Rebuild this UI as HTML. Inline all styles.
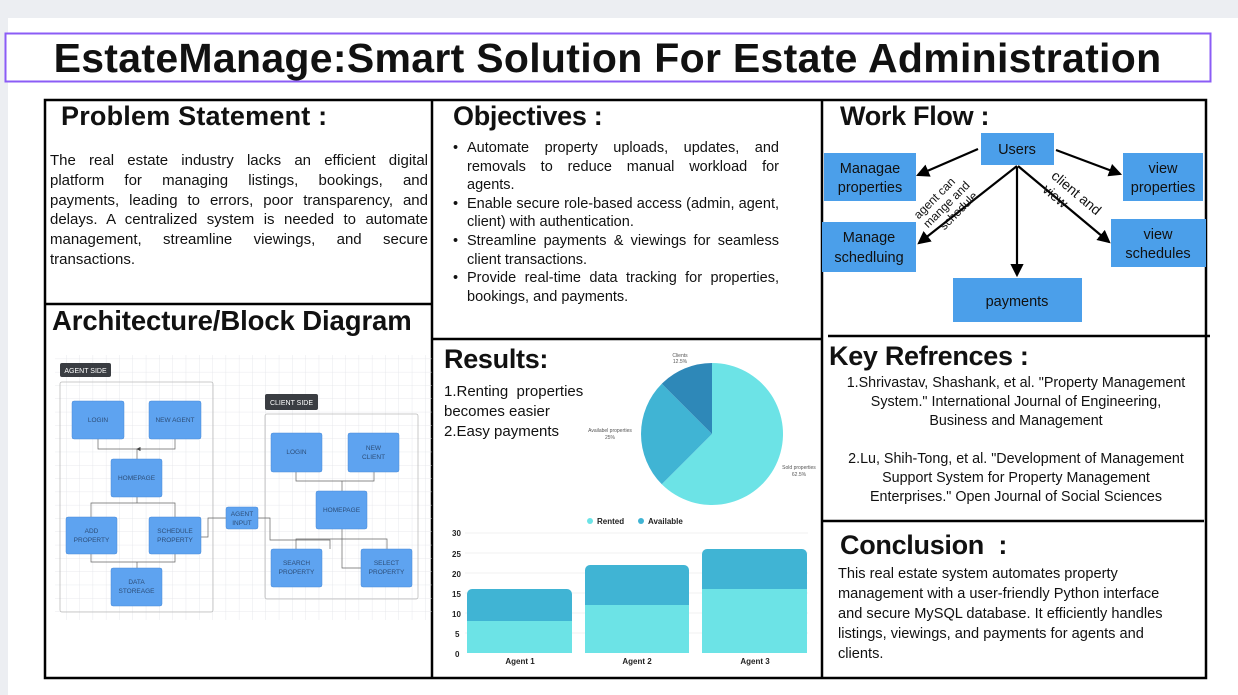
<!DOCTYPE html>
<html><head><meta charset="utf-8"><style>
html,body{margin:0;padding:0;}
body{width:1238px;height:695px;position:relative;overflow:hidden;background:#eceef2;font-family:"Liberation Sans",sans-serif;color:#111;}
.a{position:absolute;}
.p{font-size:15px;line-height:19.8px;}
.j{text-align:justify;text-align-last:justify;white-space:nowrap;}
.h{font-weight:bold;font-size:26.5px;letter-spacing:-0.3px;}
</style></head><body>
<div class="a" style="left:8px;top:18px;width:1230px;height:677px;background:#fff"></div>
<svg class="a" style="left:0;top:0" width="1238" height="695" xmlns="http://www.w3.org/2000/svg">
<defs>
<pattern id="g" width="13.3" height="13.3" patternUnits="userSpaceOnUse"><path d="M13.3 0V13.3H0" fill="none" stroke="#e2e4e8" stroke-width="0.8"/></pattern>
<marker id="ah" markerWidth="6" markerHeight="6" refX="5" refY="3" orient="auto" markerUnits="strokeWidth"><path d="M0,0L6,3L0,6z" fill="#000"/></marker>
<marker id="sa" markerWidth="6" markerHeight="6" refX="5" refY="3" orient="auto"><path d="M0,0L6,3L0,6z" fill="#444"/></marker>
</defs>
<rect x="5.5" y="33.5" width="1205" height="48" fill="#fff" stroke="#8b5cf6" stroke-width="2"/>
<g stroke="#000" stroke-width="2.5" fill="none">
<rect x="45" y="100" width="1161" height="578"/>
<line x1="432" y1="100" x2="432" y2="678"/>
<line x1="822" y1="100" x2="822" y2="678"/>
<line x1="45" y1="304" x2="432" y2="304"/>
<line x1="432" y1="339" x2="822" y2="339"/>
<line x1="828" y1="336" x2="1210" y2="336"/>
<line x1="822" y1="521" x2="1204" y2="521"/>
</g>
<rect x="55" y="355" width="377" height="265" fill="url(#g)"/>
<g stroke="#bbb" stroke-width="0.8" fill="none"><rect x="60" y="382" width="153" height="230" rx="2"/><rect x="265" y="414" width="153" height="185" rx="2"/></g>
<rect x="60" y="363" width="51" height="14" rx="2" fill="#3a3d42"/>
<rect x="265" y="394" width="53" height="16" rx="2" fill="#3a3d42"/>
<g font-size="7" fill="#fff" text-anchor="middle"><text x="85.5" y="373">AGENT SIDE</text><text x="291.5" y="405">CLIENT SIDE</text></g>
<g fill="none" stroke="#666" stroke-width="0.7">
<path d="M98 439V449H137V459M175 439V449H137" marker-end="url(#sa)"/>
<path d="M137 497V503H91V517M137 503H175V517"/>
<path d="M91 554V562H137V568M175 554V562H137"/>
<path d="M201 537H208V518H226"/>
<path d="M258 518H270V540H330V549M296 472V481H342V491M374 472V481H342"/>
<path d="M342 529V539H296V549M342 539H387V549M342 529V568H361"/>
</g>
<g fill="#5ea3f0" stroke="#4a8ad6" stroke-width="0.5">
<rect x="72" y="401" width="52" height="38" rx="2"/><rect x="149" y="401" width="52" height="38" rx="2"/>
<rect x="111" y="459" width="51" height="38" rx="2"/><rect x="66" y="517" width="51" height="37" rx="2"/>
<rect x="149" y="517" width="52" height="37" rx="2"/><rect x="111" y="568" width="51" height="38" rx="2"/>
<rect x="226" y="507" width="32" height="22" rx="2"/>
<rect x="271" y="433" width="51" height="39" rx="2"/><rect x="348" y="433" width="51" height="39" rx="2"/>
<rect x="316" y="491" width="51" height="38" rx="2"/><rect x="271" y="549" width="51" height="38" rx="2"/>
<rect x="361" y="549" width="51" height="38" rx="2"/>
</g>
<g font-size="6.5" fill="#2d4e78" text-anchor="middle">
<text x="98" y="422">LOGIN</text><text x="175" y="422">NEW AGENT</text><text x="136.5" y="480">HOMEPAGE</text>
<text x="91.5" y="533">ADD</text><text x="91.5" y="542">PROPERTY</text>
<text x="175" y="533">SCHEDULE</text><text x="175" y="542">PROPERTY</text>
<text x="136.5" y="584">DATA</text><text x="136.5" y="593">STOREAGE</text>
<text x="242" y="516">AGENT</text><text x="242" y="525">INPUT</text>
<text x="296.5" y="454">LOGIN</text><text x="373.5" y="450">NEW</text><text x="373.5" y="459">CLIENT</text>
<text x="341.5" y="512">HOMEPAGE</text>
<text x="296.5" y="565">SEARCH</text><text x="296.5" y="574">PROPERTY</text>
<text x="386.5" y="565">SELECT</text><text x="386.5" y="574">PROPERTY</text>
</g>
<g fill="#4b9fea">
<rect x="981" y="133" width="73" height="32"/><rect x="824" y="153" width="92" height="48"/>
<rect x="1123" y="153" width="80" height="48"/><rect x="822" y="222" width="94" height="50"/>
<rect x="1111" y="219" width="95" height="48"/><rect x="953" y="278" width="129" height="44"/>
</g>
<g stroke="#000" stroke-width="2.2" fill="none" marker-end="url(#ah)">
<line x1="978" y1="149" x2="918" y2="175"/>
<line x1="1056" y1="150" x2="1120" y2="174"/>
<line x1="1017" y1="166" x2="919" y2="243"/>
<line x1="1018" y1="166" x2="1109" y2="242"/>
<line x1="1017" y1="167" x2="1017" y2="275"/>
</g>
<g font-size="14.5" fill="#111" text-anchor="middle">
<text x="1017" y="154">Users</text>
<text x="870" y="173">Managae</text><text x="870" y="192">properties</text>
<text x="1163" y="173">view</text><text x="1163" y="192">properties</text>
<text x="869" y="242">Manage</text><text x="869" y="262">schedluing</text>
<text x="1158" y="239">view</text><text x="1158" y="258">schedules</text>
<text x="1017" y="306">payments</text>
</g>
<g font-size="12" fill="#111" text-anchor="middle" transform="translate(950,208) rotate(-45)">
<text x="-4" y="-14">agent can</text><text x="0" y="-1">mange and</text><text x="4" y="12">schedule</text>
</g>
<g font-size="14" fill="#111" text-anchor="middle" transform="translate(1072,198) rotate(40)">
<text x="0" y="-2">client and</text><text x="-14" y="14">view</text>
</g>
<g transform="translate(712,434)">
<path d="M0,0L0,-71A71,71 0 1,1 -50.2,50.2Z" fill="#6ce3e6"/>
<path d="M0,0L-50.2,50.2A71,71 0 0,1 -50.2,-50.2Z" fill="#40b4d4"/>
<path d="M0,0L-50.2,-50.2A71,71 0 0,1 0,-71Z" fill="#2e88b8"/>
</g>
<g font-size="5" fill="#555" text-anchor="middle">
<text x="680" y="357">Clients</text><text x="680" y="363">12.5%</text>
<text x="610" y="432">Availabel properties</text><text x="610" y="439">25%</text>
<text x="799" y="469">Sold properties</text><text x="799" y="476">62.5%</text>
</g>
<g stroke="#eee" stroke-width="0.7"><line x1="465" y1="533" x2="808" y2="533"/><line x1="465" y1="553" x2="808" y2="553"/><line x1="465" y1="573" x2="808" y2="573"/><line x1="465" y1="593" x2="808" y2="593"/><line x1="465" y1="613" x2="808" y2="613"/><line x1="465" y1="633" x2="808" y2="633"/></g>
<g fill="#40b4d4"><rect x="467" y="589" width="105" height="64" rx="5"/><rect x="585" y="565" width="104" height="88" rx="5"/><rect x="702" y="549" width="105" height="104" rx="5"/></g>
<g fill="#6ce3e6"><rect x="467" y="621" width="105" height="32"/><rect x="585" y="605" width="104" height="48"/><rect x="702" y="589" width="105" height="64"/></g>
<g font-size="8" font-weight="bold" fill="#222"><text x="452" y="536">30</text><text x="452" y="557">25</text><text x="452" y="577">20</text><text x="452" y="597">15</text><text x="452" y="617">10</text><text x="455" y="637">5</text><text x="455" y="657">0</text>
<text x="520" y="664" text-anchor="middle">Agent 1</text><text x="637" y="664" text-anchor="middle">Agent 2</text><text x="755" y="664" text-anchor="middle">Agent 3</text>
<text x="597" y="524">Rented</text><text x="648" y="524">Available</text></g>
<circle cx="590" cy="521" r="3" fill="#6ce3e6"/><circle cx="641" cy="521" r="3" fill="#40b4d4"/>
</svg>
<div class="a" style="left:5px;top:33px;width:1205px;text-align:center;font-weight:bold;font-size:41px;line-height:50px;letter-spacing:0.3px">EstateManage:Smart Solution For Estate Administration</div>
<div class="a h" style="left:61px;top:101px;font-size:27px;letter-spacing:0.2px">Problem Statement :</div>
<div class="a p" style="left:50px;top:151px;width:378px">
<div class="j">The real estate industry lacks an efficient digital</div>
<div class="j">platform for managing listings, bookings, and</div>
<div class="j">payments, leading to errors, poor transparency, and</div>
<div class="j">delays. A centralized system is needed to automate</div>
<div class="j">management, streamline viewings, and secure</div>
<div>transactions.</div></div>
<div class="a h" style="left:52px;top:305px;font-size:27.5px;letter-spacing:-0.1px">Architecture/Block Diagram</div>
<div class="a h" style="left:453px;top:101px;font-size:27px">Objectives :</div>
<div class="a" style="left:453px;top:139px;width:326px;font-size:14.5px;line-height:18.6px">
<div style="position:relative;padding-left:14px"><span class="a" style="left:0">•</span><div class="j">Automate property uploads, updates, and</div><div class="j">removals to reduce manual workload for</div><div>agents.</div></div>
<div style="position:relative;padding-left:14px"><span class="a" style="left:0">•</span><div class="j">Enable secure role-based access (admin, agent,</div><div>client) with authentication.</div></div>
<div style="position:relative;padding-left:14px"><span class="a" style="left:0">•</span><div class="j">Streamline payments &amp; viewings for seamless</div><div>client transactions.</div></div>
<div style="position:relative;padding-left:14px"><span class="a" style="left:0">•</span><div class="j">Provide real-time data tracking for properties,</div><div>bookings, and payments.</div></div>
</div>
<div class="a h" style="left:444px;top:344px;font-size:27px">Results:</div>
<div class="a" style="left:444px;top:382px;font-size:15px;line-height:20px">1.Renting&nbsp; properties<br>becomes easier<br>2.Easy payments</div>
<div class="a h" style="left:840px;top:101px;font-size:27px">Work Flow :</div>
<div class="a h" style="left:829px;top:341px;font-size:27px">Key Refrences :</div>
<div class="a" style="left:826px;top:374px;width:380px;text-align:center;font-size:14.3px;line-height:19px">1.Shrivastav, Shashank, et al. "Property Management<br>System." International Journal of Engineering,<br>Business and Management<br><br>2.Lu, Shih-Tong, et al. "Development of Management<br>Support System for Property Management<br>Enterprises." Open Journal of Social Sciences</div>
<div class="a h" style="left:840px;top:530px;font-size:27px">Conclusion&nbsp; :</div>
<div class="a" style="left:838px;top:564px;width:365px;font-size:14.6px;line-height:20px">This real estate system automates property<br>management with a user-friendly Python interface<br>and secure MySQL database. It efficiently handles<br>listings, viewings, and payments for agents and<br>clients.</div>
</body></html>
